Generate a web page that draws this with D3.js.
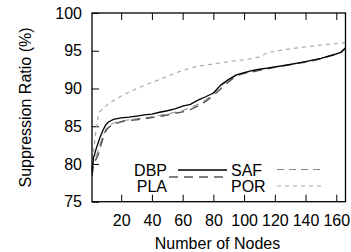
<!DOCTYPE html>
<html>
<head>
<meta charset="utf-8">
<script src="https://cdn.jsdelivr.net/npm/d3@7"></script>
<style>
  body { margin: 0; background: #fff; }
  svg { display: block; font-family: "Liberation Sans", Arial, sans-serif; }
  .tick text { font-size: 16px; fill: #000; }
  .label { font-size: 16px; fill: #000; }
</style>
</head>
<body>
<svg width="351" height="252"></svg>
<script>
// number of nodes (x) shared by all series
const nodes = [1, 2, 3, 4, 5, 6, 8, 10, 12, 15, 20, 25, 30, 35, 40, 45, 50, 55, 60, 65, 70,
  75, 80, 85, 90, 95, 100, 105, 110, 115, 120, 130, 140, 150, 160, 163, 166];

const dbp = [79.0, 80.8, 81.5, 82.2, 82.8, 83.4, 84.4, 85.2, 85.6, 85.9, 86.1, 86.2, 86.35, 86.5,
  86.6, 86.85, 87.05, 87.3, 87.65, 87.9, 88.45, 88.9, 89.4, 90.5, 91.2, 91.8, 92.1, 92.35, 92.55,
  92.7, 92.85, 93.2, 93.55, 94.0, 94.6, 94.8, 95.4];
const pla = [78.5, 79.8, 80.4, 80.8, 81.2, 82.0, 83.3, 84.4, 84.9, 85.25, 85.6, 85.75, 85.85, 86.0,
  86.15, 86.3, 86.5, 86.7, 86.9, 87.2, 87.7, 88.3, 89.1, 90.0, 90.9, 91.7, 92.0, 92.2, 92.4,
  92.6, 92.8, 93.15, 93.5, 93.95, 94.55, 94.75, 95.3];
const saf = [79.5, 80.3, 80.9, 81.3, 81.7, 82.5, 83.7, 84.6, 85.1, 85.4, 85.7, 85.85, 86.0, 86.1,
  86.25, 86.45, 86.6, 86.85, 87.1, 87.45, 87.9, 88.5, 89.3, 90.3, 91.1, 91.75, 92.05, 92.3, 92.5,
  92.65, 92.8, 93.15, 93.5, 93.95, 94.55, 94.75, 95.35];
const por = [79.5, 81.5, 83.5, 85.0, 86.3, 86.9, 87.3, 87.7, 88.0, 88.4, 89.0, 89.5, 90.0, 90.4,
  90.8, 91.2, 91.6, 92.0, 92.4, 92.7, 92.95, 93.1, 93.25, 93.4, 93.55, 93.7, 93.8, 93.95, 94.2,
  94.7, 94.95, 95.25, 95.5, 95.75, 95.95, 96.0, 96.1];

const xTicks = [20, 40, 60, 80, 100, 120, 140, 160];
const yTicks = [75, 80, 85, 90, 95, 100];

const series = [
  { name: 'DBP', values: dbp, color: '#000', width: 1.3, dash: null },
  { name: 'PLA', values: pla, color: '#555', width: 1.5, dash: '9,6' },
  { name: 'SAF', values: saf, color: '#888', width: 1, dash: '7,5' },
  { name: 'POR', values: por, color: '#aaa', width: 1.2, dash: '4,4' }
];

const svg = d3.select('svg');
const margin = { left: 92, right: 345.5, top: 13, bottom: 201.7 };

const x = d3.scaleLinear().domain([1, 166]).range([margin.left, margin.right]);
const y = d3.scaleLinear().domain([75, 100]).range([margin.bottom, margin.top]);

// axes with inward ticks
svg.append('g')
  .attr('transform', `translate(0,${margin.bottom})`)
  .call(d3.axisBottom(x).tickValues(xTicks).tickSizeInner(-7).tickSizeOuter(0).tickPadding(13))
  .call(g => g.select('.domain').remove())
  .call(g => g.selectAll('line').attr('stroke', '#000'));

svg.append('g')
  .attr('transform', `translate(0,${margin.top})`)
  .call(d3.axisTop(x).tickValues(xTicks).tickSizeInner(-7).tickSizeOuter(0).tickFormat(''))
  .call(g => g.select('.domain').remove())
  .call(g => g.selectAll('line').attr('stroke', '#000'));

svg.append('g')
  .attr('transform', `translate(${margin.left},0)`)
  .call(d3.axisLeft(y).tickValues(yTicks).tickSizeInner(-7).tickSizeOuter(0).tickPadding(10))
  .call(g => g.select('.domain').remove())
  .call(g => g.selectAll('line').attr('stroke', '#000'));

svg.selectAll('.tick text').attr('font-family', null).attr('font-size', null);

// lines
const line = d3.line()
  .x((d, i) => x(nodes[i]))
  .y(d => y(d));

const plot = svg.append('g');
series.slice().reverse().forEach(s => {
  plot.append('path')
    .attr('d', line(s.values))
    .attr('fill', 'none')
    .attr('stroke', s.color)
    .attr('stroke-width', s.width)
    .attr('stroke-dasharray', s.dash);
});

// frame
svg.append('rect')
  .attr('x', margin.left).attr('y', margin.top)
  .attr('width', margin.right - margin.left).attr('height', margin.bottom - margin.top)
  .attr('fill', 'none').attr('stroke', '#000').attr('stroke-width', 1.3);

// legend (two columns)
const legend = [
  { s: series[0], tx: 167, ty: 176, anchor: 'end', lx: [178, 227], ly: 170 },
  { s: series[1], tx: 167, ty: 192, anchor: 'end', lx: [169, 227], ly: 177 },
  { s: series[2], tx: 231, ty: 176, anchor: 'start', lx: [277, 325], ly: 169.5 },
  { s: series[3], tx: 231, ty: 192, anchor: 'start', lx: [277, 325], ly: 186 }
];
legend.forEach(d => {
  svg.append('text').attr('class', 'label')
    .attr('x', d.tx).attr('y', d.ty)
    .attr('text-anchor', d.anchor)
    .text(d.s.name);
  svg.append('line')
    .attr('x1', d.lx[0]).attr('x2', d.lx[1])
    .attr('y1', d.ly).attr('y2', d.ly)
    .attr('stroke', d.s.color)
    .attr('stroke-width', d.s.width)
    .attr('stroke-dasharray', d.s.dash);
});

// axis titles
svg.append('text').attr('class', 'label')
  .attr('x', 217.5).attr('y', 249)
  .attr('text-anchor', 'middle')
  .text('Number of Nodes');

svg.append('text').attr('class', 'label')
  .attr('transform', 'translate(31,107.5) rotate(-90)')
  .attr('text-anchor', 'middle')
  .text('Suppression Ratio (%)');
</script>
</body>
</html>
